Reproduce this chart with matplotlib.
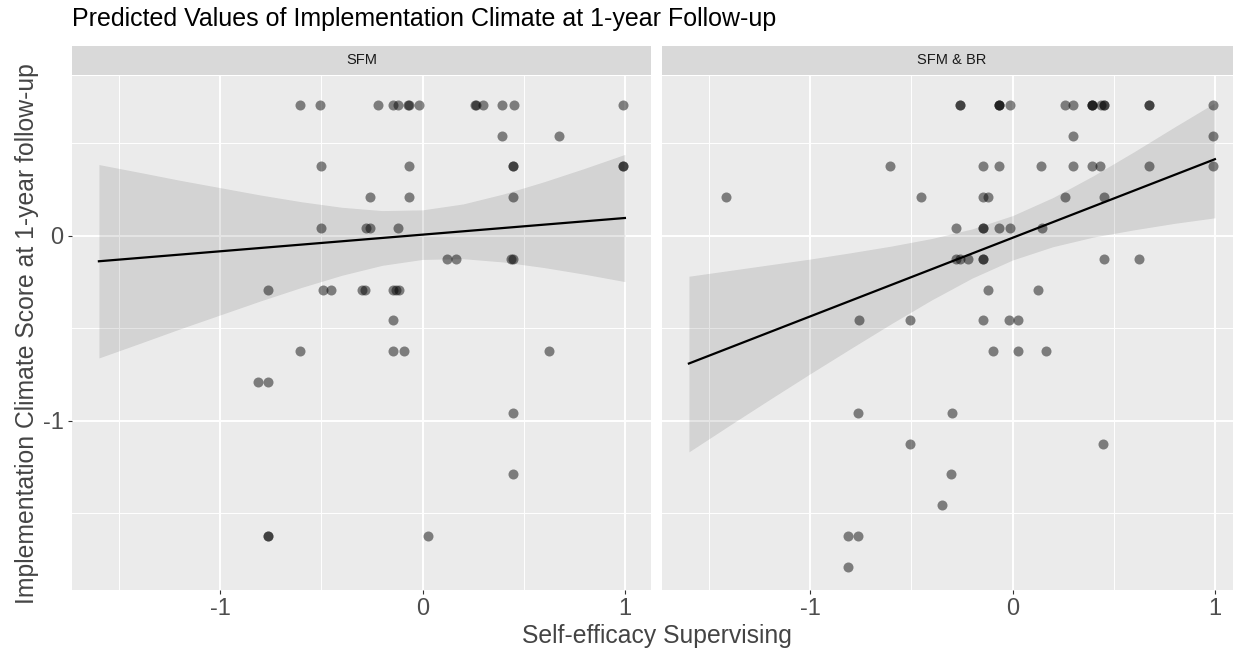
import matplotlib
matplotlib.use("Agg")
import matplotlib.pyplot as plt
import numpy as np

plt.rcParams['font.family'] = ['Liberation Sans', 'DejaVu Sans']

# response levels (y values of the raw points)
levels = [0.71, 0.543, 0.377, 0.21, 0.043, -0.123, -0.29, -0.457,
          -0.623, -0.79, -0.957, -1.123, -1.29, -1.457, -1.623, -1.79]

# x values of the raw points, one list per level
sfm_rows = [
    [-0.608, -0.506, -0.222, -0.148, -0.121, -0.073, -0.068, -0.017, 0.257, 0.262, 0.300, 0.393, 0.451, 0.992],
    [0.393, 0.675],
    [-0.503, -0.068, 0.448, 0.448, 0.992, 0.992],
    [-0.261, -0.068, 0.445],
    [-0.503, -0.282, -0.262, -0.120],
    [0.122, 0.163, 0.437, 0.445],
    [-0.763, -0.491, -0.451, -0.301, -0.284, -0.148, -0.132, -0.117],
    [-0.145],
    [-0.606, -0.145, -0.092, 0.624],
    [-0.816, -0.763],
    [0.445],
    [],
    [0.445],
    [],
    [-0.763, -0.763, 0.028],
    [],
]

br_rows = [
    [-0.260, -0.260, -0.068, -0.068, -0.068, -0.015, 0.257, 0.300, 0.393, 0.393, 0.393, 0.437, 0.451, 0.451, 0.676, 0.676, 0.990],
    [0.298, 0.990],
    [-0.607, -0.146, -0.068, 0.142, 0.298, 0.394, 0.433, 0.676, 0.990],
    [-1.415, -0.453, -0.146, -0.121, 0.257, 0.450],
    [-0.281, -0.146, -0.146, -0.068, -0.015, 0.145],
    [-0.281, -0.262, -0.218, -0.146, -0.146, 0.450, 0.626],
    [-0.121, 0.124],
    [-0.761, -0.505, -0.146, -0.019, 0.027],
    [-0.095, 0.027, 0.163],
    [],
    [-0.762, -0.300],
    [-0.505, 0.445],
    [-0.302],
    [-0.351],
    [-0.816, -0.763],
    [-0.816],
]

# predicted values and confidence band
pred_x = [-1.6, -1.4, -1.2, -1.0, -0.8, -0.6, -0.4, -0.2, 0.0, 0.2, 0.4, 0.6, 0.8, 1.0]
sfm_pred = [-0.137, -0.119, -0.101, -0.083, -0.065, -0.047, -0.029, -0.011, 0.007, 0.025, 0.043, 0.061, 0.079, 0.097]
sfm_lo = [-0.660, -0.582, -0.503, -0.427, -0.351, -0.279, -0.213, -0.159, -0.127, -0.123, -0.141, -0.171, -0.207, -0.247]
sfm_hi = [0.386, 0.344, 0.301, 0.261, 0.221, 0.185, 0.155, 0.137, 0.141, 0.173, 0.227, 0.293, 0.365, 0.441]
br_pred = [-0.690, -0.605, -0.520, -0.435, -0.350, -0.265, -0.180, -0.095, -0.010, 0.075, 0.160, 0.245, 0.330, 0.415]
br_lo = [-1.168, -1.025, -0.884, -0.745, -0.609, -0.475, -0.346, -0.228, -0.130, -0.058, -0.006, 0.033, 0.068, 0.098]
br_hi = [-0.218, -0.187, -0.156, -0.125, -0.091, -0.055, -0.014, 0.038, 0.110, 0.208, 0.326, 0.455, 0.589, 0.720]

panel_titles = ['SFM', 'SFM & BR']
x_ticks = [-1, 0, 1]
y_ticks = [-1, 0]


def flatten(rows):
    xs, ys = [], []
    for lev, row in zip(levels, rows):
        xs.extend(row)
        ys.extend([lev] * len(row))
    return xs, ys


W, H = 1233, 652


def box(l, t, r, b):
    return [l / W, 1 - b / H, (r - l) / W, (b - t) / H]


fig = plt.figure(figsize=(W / 100, H / 100), dpi=100)

panels = [
    (box(72, 76, 651, 590), box(72, 46, 651, 75), sfm_rows, sfm_pred, sfm_lo, sfm_hi),
    (box(662, 76, 1241, 590), box(662, 46, 1241, 75), br_rows, br_pred, br_lo, br_hi),
]

for i, (pos, strip_pos, rows, pred, lo, hi) in enumerate(panels):
    ax = fig.add_axes(pos)
    ax.set_facecolor('#EBEBEB')
    for s in ax.spines.values():
        s.set_visible(False)

    ax.set_xlim(-1.733, 1.129)
    ax.set_ylim(-1.915, 0.865)
    ax.set_xticks(x_ticks)
    ax.set_xticklabels([str(t) for t in x_ticks])
    ax.set_yticks(y_ticks)
    ax.set_yticklabels([str(t) for t in y_ticks])
    ax.set_xticks([-1.5, -0.5, 0.5], minor=True)
    ax.set_yticks([-1.5, -0.5, 0.5], minor=True)
    ax.grid(which='major', color='white', linewidth=1.4)
    ax.grid(which='minor', color='white', linewidth=0.7)
    ax.set_axisbelow(True)
    ax.tick_params(which='major', length=3, width=0.8, color='#333333',
                   labelcolor='#4D4D4D', labelsize=17, pad=3)
    ax.tick_params(which='minor', length=0)
    if i == 1:
        ax.tick_params(axis='y', length=0, labelleft=False)

    xs, ys = flatten(rows)
    ax.scatter(xs, ys, s=52, color='black', alpha=0.47, linewidths=0, zorder=2)
    ax.fill_between(pred_x, lo, hi, color='black', alpha=0.1, linewidth=0, zorder=3)
    ax.plot(pred_x, pred, color='black', linewidth=1.6, zorder=4)

    sax = fig.add_axes(strip_pos)
    sax.set_facecolor('#D9D9D9')
    sax.set_xticks([])
    sax.set_yticks([])
    for s in sax.spines.values():
        s.set_visible(False)
    sax.text(0.5, 0.5, panel_titles[i], ha='center', va='center',
             fontsize=10.5, color='#1A1A1A', transform=sax.transAxes)

fig.text(72 / W, 1 - 7 / H, 'Predicted Values of Implementation Climate at 1-year Follow-up',
         ha='left', va='top', fontsize=18, color='black')
fig.text(27 / W, 1 - 334 / H, 'Implementation Climate Score at 1-year follow-up',
         rotation=90, ha='center', va='center', fontsize=17.8, color='#444444')
fig.text(657 / W, 1 - 636 / H, 'Self-efficacy Supervising',
         ha='center', va='center', fontsize=17.8, color='#444444')

fig.savefig('out.png', dpi=100)
